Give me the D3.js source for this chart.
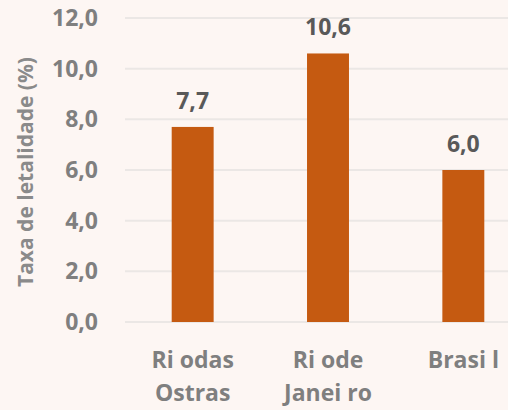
<!DOCTYPE html>
<html>
<head>
<meta charset="utf-8">
<script src="https://cdn.jsdelivr.net/npm/d3@7"></script>
<style>
  body { margin: 0; background: #fdf6f3; }
  svg { display: block; font-family: "Open Sans", "Noto Sans", sans-serif; }
</style>
</head>
<body>
<div id="chart"></div>
<script>
const categories = [["Ri odas", "Ostras"], ["Ri ode", "Janei ro"], ["Brasi l"]];
const values = [7.7, 10.6, 6.0];
const yTicks = [0, 2, 4, 6, 8, 10, 12];

const width = 508, height = 410;
const margin = { top: 18, right: -23, bottom: 88, left: 125 };

const svg = d3.select("#chart")
  .append("svg")
  .attr("width", width)
  .attr("height", height);

svg.append("rect")
  .attr("width", width)
  .attr("height", height)
  .attr("fill", "#fdf6f3");

const x = d3.scaleBand()
  .domain(d3.range(categories.length))
  .range([margin.left, width - margin.right])
  .paddingInner(0.69)
  .paddingOuter(0.345);

const y = d3.scaleLinear()
  .domain([0, 12])
  .range([height - margin.bottom, margin.top]);

const fmt = v => v.toFixed(1).replace(".", ",");

// grid
svg.append("g")
  .selectAll("line")
  .data(yTicks)
  .join("line")
  .attr("x1", margin.left)
  .attr("x2", width)
  .attr("y1", d => y(d))
  .attr("y2", d => y(d))
  .attr("stroke", "#ebe7e5")
  .attr("stroke-width", 2);

// y axis labels
const yAxis = svg.append("g")
  .attr("transform", `translate(${margin.left},0)`)
  .call(d3.axisLeft(y).tickValues(yTicks).tickFormat(fmt).tickSize(0).tickPadding(27));
yAxis.select(".domain").remove();
yAxis.selectAll("text")
  .attr("fill", "#7f7f7f")
  .style("font-size", "23px")
  .style("font-weight", "bold")
  .style("font-family", "'Open Sans', sans-serif");

// bars
svg.append("g")
  .selectAll("rect")
  .data(values)
  .join("rect")
  .attr("x", (d, i) => x(i))
  .attr("y", d => y(d))
  .attr("width", x.bandwidth())
  .attr("height", d => y(0) - y(d))
  .attr("fill", "#c55a11");

// value labels
svg.append("g")
  .selectAll("text")
  .data(values)
  .join("text")
  .attr("x", (d, i) => x(i) + x.bandwidth() / 2)
  .attr("y", d => y(d) - 18)
  .attr("text-anchor", "middle")
  .attr("fill", "#595959")
  .style("font-size", "23px")
  .style("font-weight", "bold")
  .text(fmt);

// category labels
const cat = svg.append("g")
  .selectAll("text")
  .data(categories)
  .join("text")
  .attr("x", (d, i) => x(i) + x.bandwidth() / 2)
  .attr("y", 368)
  .attr("text-anchor", "middle")
  .attr("fill", "#7f7f7f")
  .style("font-size", "23px")
  .style("font-weight", "bold");
cat.selectAll("tspan")
  .data(d => d)
  .join("tspan")
  .attr("x", function() { return this.parentNode.getAttribute("x"); })
  .attr("dy", (d, i) => i === 0 ? 0 : 33)
  .text(d => d);

// y title
svg.append("text")
  .attr("transform", `translate(33,${(y(0) + y(12)) / 2 + 2}) rotate(-90)`)
  .attr("text-anchor", "middle")
  .attr("fill", "#8a8a8a")
  .style("font-size", "21px")
  .style("font-weight", "bold")
  .text("Taxa de letalidade (%)");
</script>
</body>
</html>
